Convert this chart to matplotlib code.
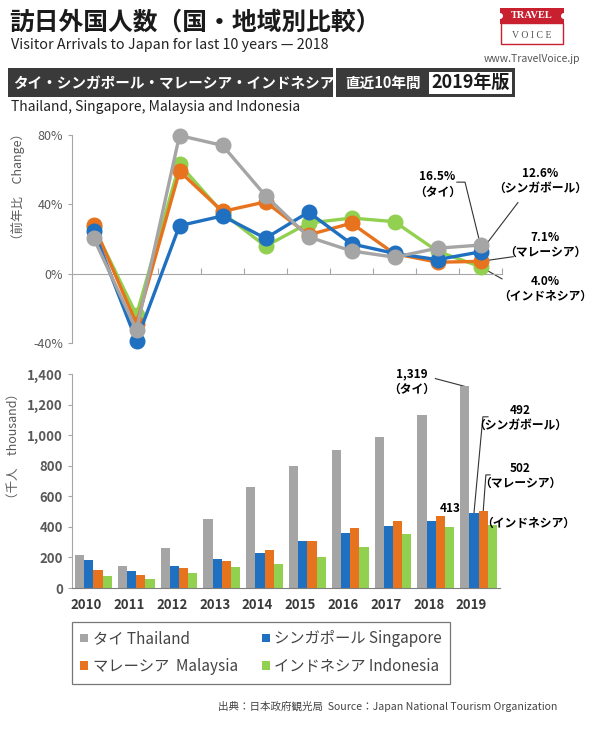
import matplotlib
matplotlib.use('Agg')
import matplotlib.pyplot as plt
import matplotlib.transforms as mtransforms
from matplotlib.patches import Rectangle, Ellipse
from matplotlib.ticker import FuncFormatter
import numpy as np

plt.rcParams['font.family'] = ['Noto Sans CJK JP', 'DejaVu Sans']

# data
years = ['2010', '2011', '2012', '2013', '2014', '2015', '2016', '2017', '2018', '2019']
names_jp = ['タイ', 'シンガポール', 'マレーシア', 'インドネシア']
names_en = ['Thailand', 'Singapore', 'Malaysia', 'Indonesia']
colors = ['#a5a5a5', '#1f70c1', '#e8731e', '#92d050']

# year-on-year change (%)
growth_thailand = [20.7, -32.5, 79.7, 74.0, 45.0, 21.2, 13.1, 9.5, 14.7, 16.5]
growth_singapore = [24.9, -38.8, 27.7, 33.3, 20.4, 35.5, 17.2, 11.7, 8.1, 12.6]
growth_malaysia = [28.2, -28.9, 59.1, 35.9, 41.4, 22.4, 29.1, 11.5, 6.6, 7.1]
growth_indonesia = [27.1, -23.8, 63.1, 35.1, 15.8, 29.2, 32.1, 30.0, 12.9, 4.0]

# arrivals (thousand)
arrivals_thailand = [215, 145, 261, 454, 658, 797, 901, 987, 1132, 1319]
arrivals_singapore = [181, 111, 142, 189, 228, 309, 362, 404, 437, 492]
arrivals_malaysia = [115, 82, 130, 177, 250, 305, 394, 440, 468, 502]
arrivals_indonesia = [81, 62, 101, 137, 159, 205, 271, 352, 397, 413]

growth = [growth_thailand, growth_singapore, growth_malaysia, growth_indonesia]
arrivals = [arrivals_thailand, arrivals_singapore, arrivals_malaysia, arrivals_indonesia]

W, H = 594, 730
def fx(px):
    return px / W
def fy(py):
    return 1 - py / H

fig = plt.figure(figsize=(W / 100, H / 100), dpi=100)
fig.patch.set_facecolor('white')

axis_grey = '#a6a6a6'
label_grey = '#595959'

# ---- header ----
fig.text(fx(9), fy(23), '訪日外国人数（国・地域別比較）', fontsize=17.8, fontweight='bold',
         color='#1a1a1a', va='center', ha='left')
fig.text(fx(11), fy(45), 'Visitor Arrivals to Japan for last 10 years \u2014 2018', fontsize=10.3,
         color='#222222', va='center', ha='left')

fig.add_artist(Rectangle((fx(8), fy(97)), (333 - 8) / W, 29 / H, transform=fig.transFigure,
                         facecolor='#3a3a3a', edgecolor='none'))
fig.text(fx(13), fy(82.5), 'タイ・シンガポール・マレーシア・インドネシア', fontsize=10.5,
         fontweight='bold', color='white', va='center', ha='left')
fig.add_artist(Rectangle((fx(336), fy(97)), (515 - 336) / W, 29 / H, transform=fig.transFigure,
                         facecolor='#3a3a3a', edgecolor='none'))
fig.text(fx(345), fy(82.5), '直近10年間', fontsize=10.5, fontweight='bold', color='white',
         va='center', ha='left')
fig.add_artist(Rectangle((fx(429), fy(94)), (512 - 429) / W, 22 / H, transform=fig.transFigure,
                         facecolor='white', edgecolor='none'))
fig.text(fx(470.5), fy(82.5), '2019年版', fontsize=13, fontweight='bold', color='#1a1a1a',
         va='center', ha='center')
fig.text(fx(11), fy(107), 'Thailand, Singapore, Malaysia and Indonesia', fontsize=10,
         color='#222222', va='center', ha='left')

# logo
fig.add_artist(Rectangle((fx(501), fy(44)), 62 / W, 21 / H, transform=fig.transFigure,
                         facecolor='white', edgecolor='#c8202f', lw=1))
fig.add_artist(Rectangle((fx(500), fy(24)), 64 / W, 16 / H, transform=fig.transFigure,
                         facecolor='#c8202f', edgecolor='none'))
for ex in (500, 564):
    fig.add_artist(Ellipse((fx(ex), fy(16)), 6 / W, 6 / H, transform=fig.transFigure,
                           facecolor='white', edgecolor='none'))
fig.text(fx(532), fy(16), 'TRAVEL', fontsize=7.5, family='Liberation Serif', fontweight='bold',
         color='white', va='center', ha='center')
fig.text(fx(532), fy(35), 'V O I C E', fontsize=7, family='Liberation Serif', color='#555555',
         va='center', ha='center')
fig.text(fx(532), fy(59), 'www.TravelVoice.jp', fontsize=7.5, color='#555555',
         va='center', ha='center')

# ---- top: year-on-year change ----
ax1 = fig.add_axes([fx(72), fy(343), 430 / W, (343 - 135) / H])
x = np.arange(len(years))
draw_order = [3, 2, 1, 0]
for z, i in enumerate(draw_order):
    ax1.plot(x, growth[i], color=colors[i], lw=2.4, marker='o', ms=10.5,
             markeredgecolor=colors[i], clip_on=False, zorder=3 + z)

ax1.set_xlim(-0.5, 9.5)
ax1.set_ylim(-40, 80)
ax1.set_yticks([-40, 0, 40, 80])
ax1.yaxis.set_major_formatter(FuncFormatter(lambda v, p: f'{v:.0f}%'))
ax1.set_xticks(np.arange(0.5, 10, 1))
ax1.set_xticklabels([])
ax1.tick_params(axis='x', direction='in', length=4, color=axis_grey)
ax1.tick_params(axis='y', direction='out', length=3, color=axis_grey, labelcolor=label_grey,
                labelsize=9)
for s in ['top', 'right']:
    ax1.spines[s].set_visible(False)
ax1.spines['bottom'].set_position(('data', 0))
ax1.spines['left'].set_color(axis_grey)
ax1.spines['bottom'].set_color(axis_grey)
ax1.set_facecolor('none')
fig.text(fx(18), fy(187), '（前年比　Change）', rotation=90, fontsize=9, color=label_grey,
         va='center', ha='center')

last = len(years) - 1
# callouts for 2019 change
line_kw = dict(color='#333333', lw=0.8, clip_on=False, zorder=1)
ax1.text(8.0, 51.5, f'{growth_thailand[-1]:.1f}%\n（{names_jp[0]}）', fontsize=8.5,
         fontweight='bold', ha='center', va='center', linespacing=1.2)
ax1.plot([8.45, 8.64, last], [52.8, 52.8, growth_thailand[-1]], **line_kw)
ax1.text(10.38, 53.5, f'{growth_singapore[-1]:.1f}%\n（シンガボール）', fontsize=8.5,
         fontweight='bold', ha='center', va='center', linespacing=1.2)
ax1.plot([9.87, last], [41.0, growth_singapore[-1]], **line_kw)
ax1.text(10.5, 16.5, f'{growth_malaysia[-1]:.1f}%\n（{names_jp[2]}）', fontsize=8.5,
         fontweight='bold', ha='center', va='center', linespacing=1.2)
ax1.plot([9.76, last], [9.8, growth_malaysia[-1]], **line_kw)
ax1.text(10.5, -9.0, f'{growth_indonesia[-1]:.1f}%\n（{names_jp[3]}）', fontsize=8.5,
         fontweight='bold', ha='center', va='center', linespacing=1.2)
ax1.plot([9.5, last], [-3.0, growth_indonesia[-1]], **line_kw)

# ---- bottom: arrivals ----
ax2 = fig.add_axes([fx(72), fy(588), 428 / W, (588 - 374) / H])
w = 0.215
bars = []
for i in range(4):
    b = ax2.bar(x + (i - 1.5) * w, arrivals[i], width=w, color=colors[i],
                label=f'{names_jp[i]} {names_en[i]}', zorder=2)
    bars.append(b)
ax2.set_xlim(-0.5, 9.5)
ax2.set_ylim(0, 1400)
ax2.set_yticks(np.arange(0, 1401, 200))
ax2.yaxis.set_major_formatter(FuncFormatter(lambda v, p: f'{v:,.0f}'))
ax2.set_xticks(x)
ax2.set_xticklabels(years, fontweight='bold', fontsize=9.5, color='#3a3a3a')
ax2.tick_params(axis='x', length=0, pad=7)
ax2.tick_params(axis='y', direction='out', length=3, color=axis_grey, labelcolor=label_grey,
                labelsize=9.5)
for lab in ax2.get_yticklabels():
    lab.set_fontweight('bold')
offset = mtransforms.ScaledTranslation(-7 / 100, 0, fig.dpi_scale_trans)
for lab in ax2.get_xticklabels():
    lab.set_transform(lab.get_transform() + offset)
for s in ['top', 'right']:
    ax2.spines[s].set_visible(False)
ax2.spines['left'].set_color(axis_grey)
ax2.spines['bottom'].set_color('#7f7f7f')
fig.text(fx(13), fy(446), '（千人　thousand）', rotation=90, fontsize=9, color=label_grey,
         va='center', ha='center')

# callouts for 2019 arrivals
ax2.text(7.43, 1350, f'{arrivals_thailand[-1]:,}\n（{names_jp[0]}）', fontsize=8.5,
         fontweight='bold', ha='center', va='center', linespacing=1.2)
ax2.plot([7.99, last - 1.5 * w], [1370, arrivals_thailand[-1]], **line_kw)
ax2.text(9.97, 1115, f'{arrivals_singapore[-1]}\n（シンガボール）', fontsize=8.5,
         fontweight='bold', ha='center', va='center', linespacing=1.2)
ax2.plot([9.22, 9.10, last - 0.5 * w], [1120, 1120, arrivals_singapore[-1]], **line_kw)
ax2.text(9.97, 735, f'{arrivals_malaysia[-1]}\n（{names_jp[2]}）', fontsize=8.5,
         fontweight='bold', ha='center', va='center', linespacing=1.2)
ax2.plot([9.27, 9.17, last + 0.5 * w], [740, 740, arrivals_malaysia[-1]], **line_kw)
ax2.text(8.33, 523, f'{arrivals_indonesia[-1]}', fontsize=8.5, fontweight='bold',
         ha='center', va='center')
ax2.text(10.15, 420, f'（{names_jp[3]}）', fontsize=8.5, fontweight='bold',
         ha='center', va='center')

# legend
handles = [bars[0], bars[2], bars[1], bars[3]]
labels = ['タイ Thailand', 'マレーシア  Malaysia', 'シンガポール Singapore', 'インドネシア Indonesia']
leg = fig.legend(handles, labels, loc='upper left', bbox_to_anchor=(fx(72), fy(622)), ncol=2,
                 frameon=True, fancybox=False, edgecolor='#555555', fontsize=11,
                 handlelength=0.5, handleheight=0.5, handletextpad=0.3, borderaxespad=0,
                 columnspacing=1.6, labelspacing=0.7, borderpad=0.55)
leg.get_frame().set_linewidth(0.9)
for t in leg.get_texts():
    t.set_color('#444444')

fig.text(fx(218), fy(707), '出典：日本政府観光局  Source：Japan National Tourism Organization',
         fontsize=7.6, color='#444444', va='center', ha='left')

fig.savefig('out.png', dpi=100)
